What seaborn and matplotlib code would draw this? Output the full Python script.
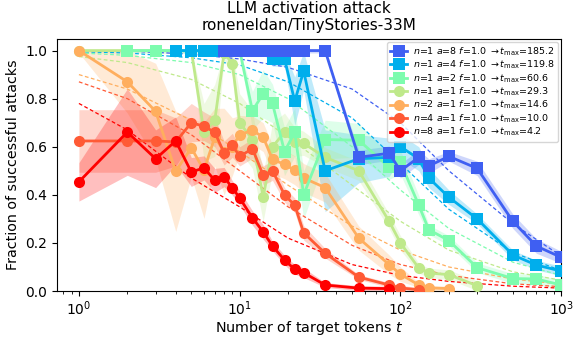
import numpy as np
import pandas as pd
import matplotlib
matplotlib.use('Agg')
import matplotlib.pyplot as plt
import seaborn as sns

# measured runs: t values, success fraction, half-width of the shaded band
blue_t = [8, 9, 10, 12, 14, 16, 19, 22, 25, 34, 55, 85, 100, 130, 150, 200, 300, 500, 700, 1000]
blue_y = [1.0, 1.0, 1.0, 1.0, 1.0, 1.0, 1.0, 1.0, 1.0, 1.0, 0.556, 0.573, 0.50, 0.556, 0.52, 0.56, 0.51, 0.29, 0.187, 0.14]
blue_s = [0.01, 0.01, 0.01, 0.01, 0.01, 0.01, 0.01, 0.01, 0.01, 0.01, 0.03, 0.03, 0.03, 0.03, 0.03, 0.02, 0.03, 0.03, 0.03, 0.025]

cyan_t = [4, 5, 6, 7, 8, 9, 10, 12, 14, 16, 19, 22, 25, 34, 55, 85, 100, 130, 150, 200, 300, 500, 700, 1000]
cyan_y = [1.0, 1.0, 1.0, 1.0, 1.0, 1.0, 1.0, 1.0, 1.0, 0.965, 0.965, 0.79, 0.915, 0.50, 0.55, 0.556, 0.60, 0.55, 0.47, 0.39, 0.30, 0.15, 0.108, 0.083]
cyan_s = [0.01, 0.01, 0.01, 0.01, 0.01, 0.01, 0.01, 0.01, 0.01, 0.03, 0.03, 0.10, 0.08, 0.17, 0.10, 0.08, 0.05, 0.05, 0.04, 0.03, 0.02, 0.02, 0.02, 0.02]

mint_t = [2, 3, 4, 5, 6, 7, 8, 9, 10, 12, 14, 16, 19, 22, 25, 34, 55, 85, 100, 130, 150, 200, 300, 500, 700, 1000]
mint_y = [1.0, 1.0, 1.0, 1.0, 1.0, 1.0, 1.0, 1.0, 1.0, 0.75, 0.82, 0.78, 0.58, 0.66, 0.40, 0.63, 0.627, 0.515, 0.535, 0.357, 0.255, 0.21, 0.097, 0.052, 0.05, 0.025]
mint_s = [0.01, 0.01, 0.01, 0.01, 0.01, 0.01, 0.01, 0.01, 0.01, 0.08, 0.10, 0.08, 0.10, 0.10, 0.10, 0.08, 0.07, 0.05, 0.05, 0.04, 0.02, 0.02, 0.02, 0.02, 0.02, 0.02]

lime_t = [1, 5, 6, 7, 8, 9, 10, 12, 14, 16, 19, 22, 25, 34, 55, 85, 100, 130, 150, 200, 300]
lime_y = [1.0, 1.0, 0.66, 0.71, 0.99, 0.946, 0.70, 0.63, 0.39, 0.60, 0.66, 0.62, 0.614, 0.556, 0.50, 0.29, 0.20, 0.095, 0.075, 0.068, 0.022]
lime_s = [0.01, 0.01, 0.12, 0.15, 0.03, 0.05, 0.12, 0.12, 0.10, 0.10, 0.08, 0.06, 0.05, 0.04, 0.04, 0.03, 0.03, 0.02, 0.02, 0.02, 0.02]

orange_t = [1, 2, 3, 4, 5, 6, 7, 8, 9, 10, 12, 14, 16, 19, 22, 25, 34, 55, 85, 100, 130, 150, 200]
orange_y = [1.0, 0.87, 0.747, 0.498, 0.595, 0.502, 0.64, 0.58, 0.60, 0.65, 0.668, 0.64, 0.547, 0.527, 0.502, 0.47, 0.43, 0.22, 0.11, 0.07, 0.025, 0.013, 0.01]
orange_s = [0.01, 0.13, 0.20, 0.25, 0.12, 0.20, 0.12, 0.18, 0.12, 0.08, 0.06, 0.06, 0.06, 0.06, 0.06, 0.06, 0.06, 0.05, 0.04, 0.03, 0.01, 0.01, 0.01]

tomato_t = [1, 2, 3, 4, 5, 6, 7, 8, 9, 10, 12, 14, 16, 19, 22, 25, 34, 55, 85, 100, 130]
tomato_y = [0.624, 0.624, 0.624, 0.62, 0.70, 0.685, 0.66, 0.574, 0.606, 0.56, 0.592, 0.481, 0.50, 0.40, 0.357, 0.242, 0.157, 0.058, 0.025, 0.013, 0.005]
tomato_s = [0.13, 0.13, 0.13, 0.10, 0.08, 0.06, 0.06, 0.05, 0.05, 0.04, 0.04, 0.04, 0.04, 0.03, 0.03, 0.03, 0.02, 0.01, 0.01, 0.01, 0.01]

red_t = [1, 2, 3, 4, 5, 6, 7, 8, 9, 10, 12, 14, 16, 19, 22, 25, 34, 55, 85]
red_y = [0.454, 0.661, 0.55, 0.624, 0.495, 0.512, 0.46, 0.474, 0.429, 0.387, 0.304, 0.246, 0.187, 0.129, 0.09, 0.076, 0.025, 0.012, 0.01]
red_s = [0.08, 0.18, 0.12, 0.10, 0.06, 0.05, 0.05, 0.04, 0.03, 0.03, 0.03, 0.03, 0.02, 0.02, 0.02, 0.02, 0.01, 0.01, 0.01]

# dashed fitted curves
fit_t = [1, 2, 5, 10, 20, 50, 100, 200, 500, 1000]
blue_fit = [1.0, 0.998, 0.985, 0.965, 0.93, 0.84, 0.70, 0.50, 0.28, 0.145]
cyan_fit = [0.995, 0.99, 0.97, 0.94, 0.87, 0.72, 0.53, 0.34, 0.16, 0.085]
mint_fit = [0.99, 0.98, 0.95, 0.90, 0.80, 0.60, 0.42, 0.26, 0.12, 0.065]
lime_fit = [0.975, 0.95, 0.88, 0.78, 0.64, 0.44, 0.29, 0.17, 0.08, 0.045]
orange_fit = [0.90, 0.84, 0.71, 0.58, 0.44, 0.27, 0.17, 0.10, 0.05, 0.028]
tomato_fit = [0.87, 0.80, 0.65, 0.50, 0.35, 0.19, 0.11, 0.065, 0.03, 0.018]
red_fit = [0.78, 0.67, 0.47, 0.35, 0.22, 0.11, 0.065, 0.04, 0.02, 0.012]

labels = [r"$n$=1 $a$=8 $f$=1.0 $\rightarrow$$t_{\rm max}$=185.2",
          r"$n$=1 $a$=4 $f$=1.0 $\rightarrow$$t_{\rm max}$=119.8",
          r"$n$=1 $a$=2 $f$=1.0 $\rightarrow$$t_{\rm max}$=60.6",
          r"$n$=1 $a$=1 $f$=1.0 $\rightarrow$$t_{\rm max}$=29.3",
          r"$n$=2 $a$=1 $f$=1.0 $\rightarrow$$t_{\rm max}$=14.6",
          r"$n$=4 $a$=1 $f$=1.0 $\rightarrow$$t_{\rm max}$=10.0",
          r"$n$=8 $a$=1 $f$=1.0 $\rightarrow$$t_{\rm max}$=4.2"]
colors = ['#3f5ff2', '#00aeec', '#7dfcae', '#bfe98b', '#ffae5e', '#ff5a35', '#ff0000']
markers = ['s', 's', 's', 'o', 'o', 'o', 'o']
zorders = [12, 11, 10, 5, 6, 7, 8]

runs = [(blue_t, blue_y, blue_s), (cyan_t, cyan_y, cyan_s), (mint_t, mint_y, mint_s),
        (lime_t, lime_y, lime_s), (orange_t, orange_y, orange_s),
        (tomato_t, tomato_y, tomato_s), (red_t, red_y, red_s)]
fits = [blue_fit, cyan_fit, mint_fit, lime_fit, orange_fit, tomato_fit, red_fit]

fig, ax = plt.subplots(figsize=(5.81, 3.38), dpi=100)
fig.subplots_adjust(left=0.098, right=0.966, top=0.886, bottom=0.139)

for (t, y, s), lab, c, m, z in zip(runs, labels, colors, markers, zorders):
    t = np.array(t, dtype=float)
    y = np.array(y)
    s = np.array(s)
    # three rows per t so the median is the value and the 100% interval is the band
    df = pd.DataFrame({'t': np.concatenate([t, t, t]),
                       'frac': np.concatenate([np.clip(y - s, 0, 1), y, np.clip(y + s, 0, 1)])})
    sns.lineplot(data=df, x='t', y='frac', estimator='median', errorbar=('pi', 100),
                 color=c, marker=m, markersize=8, markeredgecolor=c, markeredgewidth=0,
                 linewidth=2, label=lab, zorder=z, err_kws={'alpha': 0.25, 'linewidth': 0},
                 ax=ax)

for f, c in zip(fits, colors):
    fdf = pd.DataFrame({'t': fit_t, 'frac': f})
    sns.lineplot(data=fdf, x='t', y='frac', color=c, linestyle=(0, (3, 2)), linewidth=0.9,
                 zorder=3, ax=ax)

ax.set_xscale('log')
ax.set_xlim(0.73, 1000)
ax.set_ylim(0, 1.05)
ax.set_xlabel('Number of target tokens $t$', fontsize=10.3, labelpad=0.5)
ax.set_ylabel('Fraction of successful attacks', fontsize=10.3)
ax.set_title('LLM activation attack\nroneneldan/TinyStories-33M', fontsize=11)
ax.tick_params(labelsize=10)
ax.tick_params(axis='x', pad=2.5)
leg = ax.legend(loc='upper right', fontsize=6.8, labelspacing=0.1, handlelength=1.8,
                borderaxespad=0.35, borderpad=0.35, handletextpad=0.6)
leg.set_zorder(20)

plt.savefig('out.png', dpi=100)
